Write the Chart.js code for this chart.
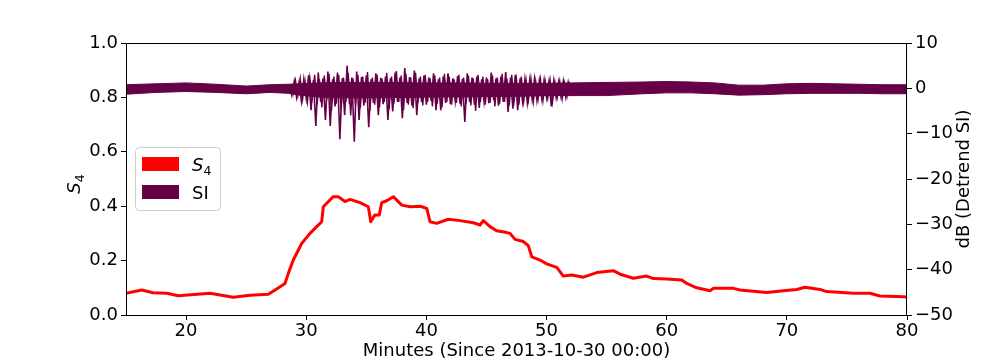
<!DOCTYPE html>
<html><head><meta charset="utf-8">
<script src="https://cdn.jsdelivr.net/npm/chart.js@4"></script>
<style>html,body{margin:0;padding:0;background:#fff}</style>
</head><body>
<canvas id="c" width="1008" height="360"></canvas>
<script>
const xTicks = [20, 30, 40, 50, 60, 70, 80];
const s4Ticks = [0, 0.2, 0.4, 0.6, 0.8, 1.0];
const dbTicks = [-50, -40, -30, -20, -10, 0, 10];

const s4Minutes = [15.0, 16.31, 17.25, 18.39, 19.35, 21.99, 23.93, 25.32, 26.84, 27.54, 28.23, 28.51, 28.92, 29.21, 29.62, 30.31, 30.87, 31.29, 31.42, 32.25, 32.67, 33.23, 33.64, 34.48, 35.17, 35.37, 35.72, 36.08, 36.28, 36.70, 37.25, 37.95, 38.64, 39.47, 40.03, 40.30, 40.86, 41.82, 42.80, 43.91, 44.46, 44.74, 45.30, 45.85, 46.69, 46.96, 47.38, 48.07, 48.48, 48.77, 49.46, 50.01, 50.85, 51.40, 52.10, 53.06, 54.18, 55.56, 56.12, 57.22, 58.34, 58.89, 60.00, 61.25, 61.67, 62.50, 63.61, 63.88, 65.55, 66.10, 68.32, 69.71, 70.82, 71.51, 72.76, 73.32, 75.53, 76.92, 77.75, 79.69, 80.0];
const s4Values = [0.080, 0.092, 0.082, 0.080, 0.071, 0.080, 0.065, 0.073, 0.076, 0.096, 0.116, 0.153, 0.202, 0.227, 0.263, 0.300, 0.325, 0.343, 0.398, 0.435, 0.435, 0.417, 0.425, 0.413, 0.398, 0.343, 0.368, 0.368, 0.413, 0.420, 0.435, 0.404, 0.398, 0.400, 0.392, 0.343, 0.337, 0.352, 0.347, 0.339, 0.331, 0.347, 0.325, 0.310, 0.303, 0.300, 0.278, 0.270, 0.255, 0.214, 0.202, 0.188, 0.175, 0.143, 0.147, 0.139, 0.156, 0.163, 0.150, 0.135, 0.143, 0.134, 0.132, 0.129, 0.116, 0.100, 0.089, 0.098, 0.098, 0.092, 0.083, 0.089, 0.094, 0.102, 0.094, 0.086, 0.080, 0.080, 0.070, 0.067, 0.066];

const siEnvMinutes = [15, 17.5, 20, 22.5, 25, 27, 28.5, 29.5, 31, 33, 35, 37, 39, 41, 43, 45, 47, 48.5, 50, 52, 55, 58, 60, 62, 64, 66, 68, 70, 72, 74, 76, 78, 80];
const siEnvUpper = [0.8, 1.0, 1.2, 0.9, 0.5, 0.8, 0.9, 1.0, 1.2, 1.3, 1.3, 1.3, 1.2, 1.2, 1.2, 1.1, 1.1, 1.1, 1.1, 1.2, 1.3, 1.4, 1.5, 1.4, 1.2, 0.7, 0.7, 1.0, 1.1, 1.0, 0.9, 0.8, 0.8];
const siEnvLower = [-1.3, -0.9, -0.7, -0.9, -1.2, -0.9, -1.1, -1.5, -1.9, -2.1, -2.1, -2.0, -2.0, -1.9, -1.9, -1.8, -1.8, -1.7, -1.6, -1.6, -1.6, -1.2, -1.0, -1.0, -1.2, -1.5, -1.4, -1.2, -1.1, -1.1, -1.1, -1.2, -1.2];

const siSpikeStart = 28.6, siSpikeStep = 0.2;
const siSpikeValues = [0.8, -1.5, 1.5, -2.0, 1.2, -2.8, 2.0, -2.2, 2.9, -4.8, 1.8, -8.3, 3.5, -3.0, 2.2, -7.0, 3.7, -8.3, 2.0, -4.0, 3.5, -11.2, 2.2, -5.9, 5.0, -3.5, 2.4, -11.8, 3.7, -7.0, 2.5, -3.8, 2.8, -8.6, 2.0, -3.2, 3.3, -5.9, 2.3, -3.5, 2.6, -7.0, 2.2, -5.1, 3.5, -3.0, 2.4, -6.6, 4.5, -3.2, 2.5, -3.8, 3.9, -5.9, 2.2, -3.0, 2.8, -3.6, 2.4, -2.8, 3.3, -4.8, 2.0, -4.8, 2.6, -3.2, 3.3, -3.5, 2.2, -2.8, 2.7, -3.4, 2.1, -7.4, 3.3, -3.0, 2.4, -3.6, 2.6, -4.3, 2.0, -2.9, 2.4, -3.3, 3.5, -2.6, 2.2, -3.8, 2.6, -3.0, 3.6, -5.2, 2.4, -4.5, 3.0, -4.8, 2.2, -2.8, 2.0, -3.2, 1.8, -2.4, 2.1, -2.6, 1.7, -2.2, 1.9, -2.0, 1.5, -4.0, 1.6, -2.0, 1.4, -1.8, 1.6, -1.9, 1.3, -1.7];

const siTex2Start = 28.7, siTex2Step = 0.2;
const siTex2Values = [1.0, -1.2, 1.8, -1.6, 2.2, -2.4, 1.6, -3.0, 2.4, -2.0,
  3.0, -3.6, 2.0, -4.2, 2.8, -2.6, 3.2, -5.0, 2.6, -3.4,
  3.0, -4.6, 2.4, -3.0, 3.4, -6.0, 2.2, -3.8, 3.0, -4.4,
  2.6, -3.2, 3.6, -5.0, 2.4, -3.6, 3.0, -4.2, 2.2, -3.0,
  3.4, -4.6, 2.6, -3.4, 3.8, -3.0, 2.8, -4.8, 3.2, -3.6,
  2.4, -4.4, 3.4, -3.2, 2.6, -3.8, 3.0, -3.0, 2.2, -4.0,
  2.8, -3.4, 2.4, -4.2, 3.2, -3.0, 2.6, -3.6, 2.0, -3.2,
  3.0, -4.0, 2.4, -3.4, 2.8, -3.8, 2.2, -5.0, 3.0, -3.0,
  2.6, -3.6, 2.0, -3.2, 2.8, -4.0, 2.4, -3.4, 3.2, -3.0,
  2.2, -3.8, 3.0, -2.8, 2.0, -3.6, 2.6, -3.0, 1.8, -2.6,
  2.2, -3.0, 1.6, -2.4, 2.0, -2.8, 1.4, -2.2, 1.8, -3.0,
  1.4, -2.0, 1.6, -2.4, 1.2, -1.8, 1.5];

const PURPLE = 'rgb(102,0,71)';
const RED = '#ff0000';
const FONT = 'DejaVu Sans';
const FS = 18;

const s4Points = s4Minutes.map((m, i) => ({x: m, y: s4Values[i]}));
const upperPts = siEnvMinutes.map((m, i) => ({x: m, y: siEnvUpper[i]}));
const lowerPts = siEnvMinutes.map((m, i) => ({x: m, y: siEnvLower[i]}));
const spikePts = siSpikeValues.map((v, i) => ({x: siSpikeStart + i * siSpikeStep, y: v}));
const tex2Pts = siTex2Values.map((v, i) => ({x: siTex2Start + i * siTex2Step, y: v}));

const tickFont = {family: FONT, size: FS};
const gridCfg = {display: true, drawOnChartArea: false, drawTicks: true, tickLength: 5, tickColor: '#000', tickWidth: 1, color: '#000'};

const decor = {
  id: 'decor',
  afterDraw(chart) {
    const ctx = chart.ctx, a = chart.chartArea;
    ctx.save();
    ctx.strokeStyle = '#000';
    ctx.lineWidth = 1;
    ctx.strokeRect(Math.round(a.left) + 0.5, Math.round(a.top) + 0.5, Math.round(a.right - a.left) - 1, Math.round(a.bottom - a.top));
    ctx.fillStyle = '#000';
    ctx.font = FS + 'px "' + FONT + '"';
    ctx.textAlign = 'center';
    ctx.textBaseline = 'alphabetic';
    ctx.fillText('Minutes (Since 2013-10-30 00:00)', (a.left + a.right) / 2, 356);
    ctx.save();
    ctx.translate(969, (a.top + a.bottom) / 2);
    ctx.rotate(-Math.PI / 2);
    ctx.textAlign = 'center';
    ctx.fillText('dB (Detrend SI)', 0, 0);
    ctx.restore();
    ctx.save();
    ctx.translate(80, (a.top + a.bottom) / 2 + 5);
    ctx.rotate(-Math.PI / 2);
    ctx.textAlign = 'left';
    ctx.font = 'italic ' + FS + 'px "' + FONT + '"';
    const sw = ctx.measureText('S').width;
    ctx.fillText('S', -(sw + 8) / 2, 0);
    ctx.font = '12.5px "' + FONT + '"';
    ctx.fillText('4', -(sw + 8) / 2 + sw, 3.5);
    ctx.restore();
    ctx.beginPath();
    ctx.roundRect(135.5, 147.5, 85, 63, 4);
    ctx.fillStyle = 'rgba(255,255,255,0.8)';
    ctx.fill();
    ctx.strokeStyle = '#cccccc';
    ctx.stroke();
    ctx.fillStyle = RED;
    ctx.fillRect(142, 157, 37, 14);
    ctx.fillStyle = PURPLE;
    ctx.fillRect(142, 185, 37, 14);
    ctx.fillStyle = '#000';
    ctx.textAlign = 'left';
    ctx.font = 'italic ' + FS + 'px "' + FONT + '"';
    ctx.fillText('S', 192, 171);
    const sw2 = ctx.measureText('S').width;
    ctx.font = '12.5px "' + FONT + '"';
    ctx.fillText('4', 192 + sw2, 175);
    ctx.font = FS + 'px "' + FONT + '"';
    ctx.fillText('SI', 192, 199);
    ctx.restore();
  }
};

new Chart(document.getElementById('c'), {
  type: 'line',
  data: {
    datasets: [
      {label: 'S4', data: s4Points, yAxisID: 'y', borderColor: RED, borderWidth: 3, pointRadius: 0, tension: 0, borderJoinStyle: 'round', fill: false},
      {label: 'SIup', data: upperPts, yAxisID: 'y2', borderColor: PURPLE, borderWidth: 1, pointRadius: 0, tension: 0, fill: '+1', backgroundColor: PURPLE},
      {label: 'SIlow', data: lowerPts, yAxisID: 'y2', borderColor: PURPLE, borderWidth: 1, pointRadius: 0, tension: 0, fill: false},
      {label: 'SI', data: spikePts, yAxisID: 'y2', borderColor: PURPLE, borderWidth: 1.6, pointRadius: 0, tension: 0, fill: false},
      {label: 'SI2', data: tex2Pts, yAxisID: 'y2', borderColor: PURPLE, borderWidth: 1.4, pointRadius: 0, tension: 0, fill: false}
    ]
  },
  options: {
    responsive: false,
    animation: false,
    devicePixelRatio: 1,
    layout: {padding: {top: 43, left: 0, right: 0, bottom: 0}},
    plugins: {legend: {display: false}, tooltip: {enabled: false}},
    scales: {
      x: {
        type: 'linear', position: 'bottom', min: 15, max: 80,
        afterBuildTicks: s => { s.ticks = xTicks.map(v => ({value: v})); },
        afterFit: s => { s.height = 45; },
        grid: gridCfg, border: {display: false},
        ticks: {color: '#000', font: tickFont, padding: 1, maxRotation: 0, autoSkip: false, callback: v => String(v)}
      },
      y: {
        type: 'linear', position: 'left', min: 0, max: 1,
        afterBuildTicks: s => { s.ticks = s4Ticks.map(v => ({value: v})); },
        afterFit: s => { s.width = 126; },
        grid: gridCfg, border: {display: false},
        ticks: {color: '#000', font: tickFont, padding: 3, autoSkip: false, callback: v => Number(v).toFixed(1)}
      },
      y2: {
        type: 'linear', position: 'right', min: -50, max: 10,
        afterBuildTicks: s => { s.ticks = dbTicks.map(v => ({value: v})); },
        afterFit: s => { s.width = 101; },
        grid: gridCfg, border: {display: false},
        ticks: {color: '#000', font: tickFont, padding: 3, autoSkip: false, callback: v => String(v).replace('-', '\u2212')}
      }
    }
  },
  plugins: [decor]
});
</script>
</body></html>
